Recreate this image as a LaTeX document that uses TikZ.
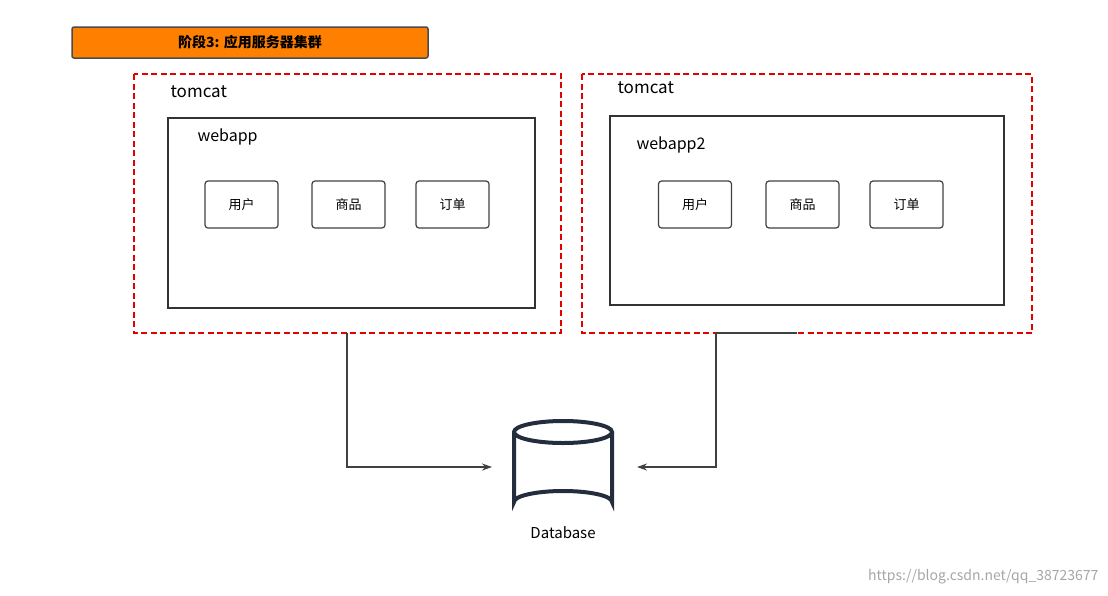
\documentclass[tikz,border=0pt]{standalone}
\usepackage{fontspec}
\setmainfont{Noto Sans CJK SC}
\usetikzlibrary{arrows.meta}
\definecolor{banner}{RGB}{255,128,0}
\definecolor{dbline}{RGB}{35,45,60}
\tikzset{
  cluster/.style={draw=red!90!black, line width=1.5pt, dash pattern=on 6pt off 3.5pt},
  appbox/.style={draw=black!80, line width=1.5pt},
  module/.style={draw=black!75, rounded corners=3pt, minimum width=73pt, minimum height=47pt, font=\fontsize{13}{15}\selectfont, line width=1.2pt},
  conn/.style={draw=black!75, line width=1.2pt, -{Stealth[length=10pt,width=7pt]}}
}
\begin{document}
\begin{tikzpicture}[x=1pt,y=-1pt]
\useasboundingbox (0,0) rectangle (1108,595);

% banner
\node (banner) [draw=black!70, fill=banner, rounded corners=2pt, line width=1.5pt,
  minimum width=356pt, minimum height=31pt, font=\bfseries\fontsize{14}{16}\selectfont]
  at (250,42.5) {阶段3: 应用服务器集群};

% tomcat clusters
\draw [cluster] (134,74) rectangle (561,333);
\draw [cluster] (582,74) rectangle (1032,333);
\node (tomcat1) [anchor=west, font=\fontsize{17}{19}\selectfont] at (167,92) {tomcat};
\node (tomcat2) [anchor=west, font=\fontsize{17}{19}\selectfont] at (614,88) {tomcat};

% webapps
\draw [appbox] (168,118) rectangle (535,308);
\draw [appbox] (610,116) rectangle (1004,305);
\node (webapp1) [anchor=west, font=\fontsize{16}{18}\selectfont] at (194,137) {webapp};
\node (webapp2) [anchor=west, font=\fontsize{16}{18}\selectfont] at (633,145) {webapp2};

\node (user1)  [module] at (241.5,204.5) {用户};
\node (goods1) [module] at (348.5,204.5) {商品};
\node (order1) [module] at (452.5,204.5) {订单};
\node (user2)  [module] at (695,204.5) {用户};
\node (goods2) [module] at (802.5,204.5) {商品};
\node (order2) [module] at (906.5,204.5) {订单};

% database
\draw [dbline, line width=4pt] (563,432) ellipse [x radius=49, y radius=11];
\draw [dbline, line width=4pt] (514,432) -- (514,502) arc [start angle=180, end angle=360, x radius=49, y radius=11] -- (612,432);
\coordinate (db) at (563,467);
\node (dblabel) [font=\fontsize{15}{17}\selectfont] at (563,533) {Database};

\coordinate (out1) at (347,333);
\coordinate (out2) at (716,333);
\coordinate (in1) at (492,467);
\coordinate (in2) at (637,467);
\draw [conn] (out1) |- (in1);
\draw [conn] (out2) |- (in2);
\draw [draw=black!75, line width=1.5pt] (out2) -- (797,333);

\node (mark) [text=black!35, font=\fontsize{14}{16}\selectfont, anchor=east] at (1102,577) {https://blog.csdn.net/qq\_38723677};
\end{tikzpicture}
\end{document}
